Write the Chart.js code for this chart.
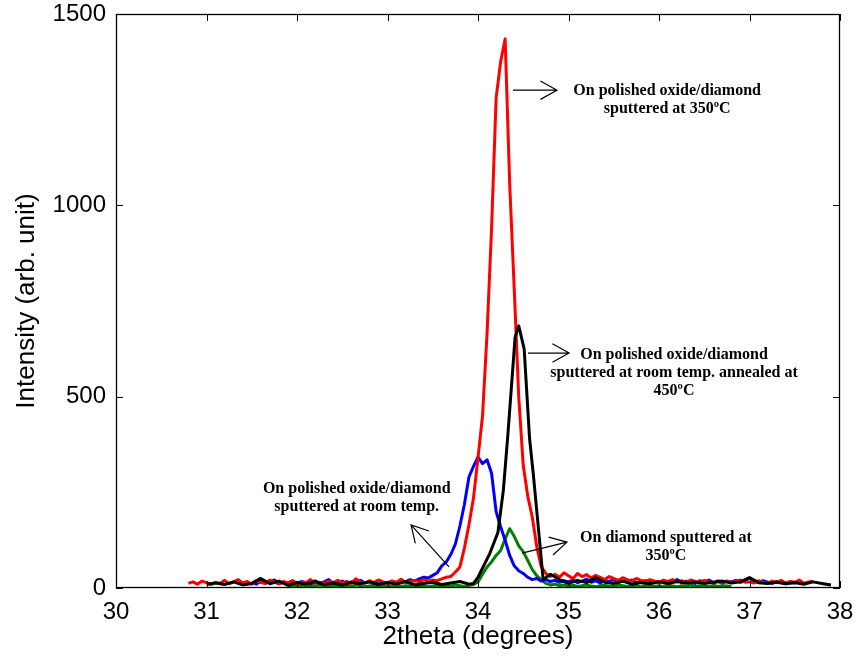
<!DOCTYPE html>
<html>
<head>
<meta charset="utf-8">
<script src="https://cdn.jsdelivr.net/npm/chart.js@4.4.1/dist/chart.umd.min.js"></script>
<style>
  html, body { margin: 0; padding: 0; background: #fff; }
  #wrap { width: 859px; height: 657px; }
</style>
</head>
<body>
<div id="wrap"><canvas id="xrd" width="859" height="657"></canvas></div>
<script>
// XRD scans around the 34° reflection, intensity in arbitrary units.
const xTicks = [30, 31, 32, 33, 34, 35, 36, 37, 38];
const yTicks = [0, 500, 1000, 1500];

// Fine scans: first angle and step (degrees), then intensities.
const redStart = 30.80, redStep = 0.05;   // polished oxide/diamond, sputtered at 350 ºC
const redCounts = [
  12, 16, 10, 18,                                                          // 30.80 - 30.95
  14, 9, 15, 12, 20, 11, 16, 22, 13, 17, 10, 19, 14, 12, 21, 15, 11, 17, 13, 19,   // 31.00 - 31.95
  10, 16, 14, 22, 12, 15, 11, 18, 14, 20, 13, 17, 12, 24, 15, 13, 19, 14, 21, 16,  // 32.00 - 32.95
  12, 18, 15, 23, 14, 17, 20, 16, 22, 18, 21, 19, 24, 28, 30, 42, 55, 105, 165, 235, // 33.00 - 33.95
  340, 450, 665, 940, 1280, 1375, 1435, 1057, 783, 500, 320, 240, 185, 107, 55, 38, 30, 36, 28, 40, // 34.00 - 34.95
  32, 25, 38, 30, 35, 26, 33, 28, 22, 30, 25, 20, 27, 22, 18, 25, 20, 17, 22, 18,  // 35.00 - 35.95
  15, 20, 17, 22, 16, 19, 14, 21, 17, 15, 20, 16, 13, 19, 15, 18, 14, 17, 21, 15,  // 36.00 - 36.95
  16, 13, 19, 15, 12, 18, 14, 20, 13, 17, 15, 21, 12, 16, 18                       // 37.00 - 37.70
];

const blueStart = 31.50, blueStep = 0.05; // polished oxide/diamond, sputtered at room temp.
const blueCounts = [
  14, 10, 18, 12, 16, 21, 11, 15, 13, 19,                                          // 31.50 - 31.95
  12, 17, 14, 10, 19, 13, 16, 22, 12, 15, 18, 11, 16, 14, 20, 13, 17, 12, 19, 15,  // 32.00 - 32.95
  14, 18, 13, 20, 16, 22, 18, 24, 28, 26, 33, 40, 58, 68, 88, 115, 162, 219, 290, 318, // 33.00 - 33.95
  342, 325, 335, 300, 200, 160, 125, 85, 58, 45, 38, 28, 22, 25, 18, 22, 17, 20, 15, 19, // 34.00 - 34.95
  16, 21, 14, 18, 23, 15, 19, 13, 20, 17, 22, 14, 18, 16, 21, 13, 17, 19, 14, 18,  // 35.00 - 35.95
  15, 20, 13, 17, 22, 14, 18, 16, 12, 19, 15, 21, 14, 17, 13, 18, 16, 20, 15, 19,  // 36.00 - 36.95
  26, 18, 14, 19, 15, 12, 17, 14, 11, 16, 13, 15, 12                               // 37.00 - 37.60
];

const greenStart = 31.90, greenStep = 0.05; // diamond, sputtered at 350 ºC
const greenCounts = [
  5, 7,                                                                            // 31.90 - 31.95
  4, 6, 3, 7, 5, 8, 4, 6, 5, 3, 7, 5, 4, 8, 6, 3, 5, 7, 4, 6,                      // 32.00 - 32.95
  5, 3, 7, 4, 6, 5, 8, 4, 6, 3, 5, 7, 4, 6, 5, 8, 6, 4, 7, 9,                      // 33.00 - 33.95
  16, 36, 55, 68, 85, 98, 128, 155, 135, 110, 95, 72, 48, 32, 21, 12, 8, 10, 6, 8, // 34.00 - 34.95
  5, 7, 4, 6, 8, 5, 3, 6, 7, 4, 5, 8, 6, 4, 5, 7, 3, 6, 5, 4,                      // 35.00 - 35.95
  6, 4, 7, 5, 3, 6, 5, 8, 4, 6, 5, 3, 7, 4, 6, 5, 4                                // 36.00 - 36.80
];

// Coarse scan: [2theta, intensity] — sputtered at room temp., annealed at 450 ºC
const blackScan = [
  [31.0, 10], [31.1, 13], [31.2, 9], [31.3, 16], [31.4, 8], [31.5, 12], [31.6, 25], [31.7, 11],
  [31.8, 18], [31.9, 7], [32.0, 14], [32.1, 10], [32.2, 17], [32.3, 9], [32.4, 13], [32.5, 8],
  [32.6, 15], [32.7, 11], [32.8, 16], [32.9, 9], [33.0, 14], [33.1, 10], [33.2, 17], [33.3, 8],
  [33.4, 12], [33.5, 15], [33.6, 9], [33.7, 13], [33.8, 17], [33.9, 10], [33.95, 12], [34.0, 28],
  [34.05, 52], [34.13, 90], [34.22, 145], [34.28, 255], [34.33, 400], [34.41, 655], [34.45, 685],
  [34.51, 625], [34.57, 390], [34.61, 300], [34.66, 175], [34.72, 22], [34.8, 36], [34.9, 22],
  [35.0, 12], [35.1, 20], [35.2, 14], [35.3, 27], [35.4, 15], [35.5, 12], [35.6, 18], [35.7, 10],
  [35.8, 14], [35.9, 11], [36.0, 16], [36.1, 12], [36.2, 17], [36.3, 13], [36.4, 16], [36.5, 12],
  [36.6, 15], [36.7, 18], [36.8, 13], [36.9, 16], [37.0, 27], [37.1, 14], [37.2, 12], [37.3, 15],
  [37.4, 11], [37.5, 14], [37.6, 10], [37.7, 16], [37.8, 12], [37.9, 8]
];

// Callout texts with arrows, placed in data units (2theta, intensity).
const callouts = [
  { lines: ['On polished oxide/diamond', 'sputtered at 350ºC'],
    at: [36.09, 1299], from: [34.387, 1301], to: [34.873, 1301] },
  { lines: ['On polished oxide/diamond', 'sputtered at room temp. annealed at', '450ºC'],
    at: [36.166, 609], from: [34.552, 614], to: [35.006, 614] },
  { lines: ['On polished oxide/diamond', 'sputtered at room temp.'],
    at: [32.66, 259], from: [33.68, 55], to: [33.26, 165] },
  { lines: ['On diamond sputtered at', '350ºC'],
    at: [36.077, 131], from: [34.486, 91], to: [34.983, 120] }
];

function stepSeries(start, step, counts) {
  return counts.map((v, i) => ({ x: +(start + i * step).toFixed(2), y: v }));
}

const SANS = '"Liberation Sans", Arial, sans-serif';
const SERIF = '"Liberation Serif", "Times New Roman", serif';

// Box around the axes with inward tick marks on all four sides.
const boxFrame = {
  id: 'boxFrame',
  afterDatasetsDraw(chart) {
    const { ctx, chartArea: a, scales } = chart;
    const len = 7;
    ctx.save();
    ctx.strokeStyle = '#000';
    ctx.lineWidth = 1;
    ctx.beginPath();
    xTicks.forEach(t => {
      const px = Math.round(scales.x.getPixelForValue(t)) + 0.5;
      ctx.moveTo(px, a.bottom); ctx.lineTo(px, a.bottom - len);
      ctx.moveTo(px, a.top); ctx.lineTo(px, a.top + len);
    });
    yTicks.forEach(t => {
      const py = Math.round(scales.y.getPixelForValue(t)) + 0.5;
      ctx.moveTo(a.left, py); ctx.lineTo(a.left + len, py);
      ctx.moveTo(a.right, py); ctx.lineTo(a.right - len, py);
    });
    ctx.stroke();
    ctx.lineWidth = 1.3;
    ctx.strokeRect(Math.round(a.left) + 0.5, Math.round(a.top) + 0.5,
                   Math.round(a.right - a.left) - 1, Math.round(a.bottom - a.top) - 1);
    ctx.restore();
  }
};

// Callout text and open-headed arrows.
const calloutLayer = {
  id: 'calloutLayer',
  afterDatasetsDraw(chart) {
    const { ctx, scales: { x, y } } = chart;
    const px = p => [x.getPixelForValue(p[0]), y.getPixelForValue(p[1])];
    ctx.save();
    ctx.fillStyle = '#000';
    ctx.strokeStyle = '#000';
    ctx.lineWidth = 1.2;
    ctx.font = 'bold 16px ' + SERIF;
    ctx.textAlign = 'center';
    ctx.textBaseline = 'middle';
    callouts.forEach(c => {
      const [tx, ty] = px(c.at);
      c.lines.forEach((s, i) => ctx.fillText(s, tx, ty + i * 18));
      const [x0, y0] = px(c.from);
      const [x1, y1] = px(c.to);
      const ang = Math.atan2(y1 - y0, x1 - x0);
      const head = 19, spread = Math.PI / 6.2;
      ctx.beginPath();
      ctx.moveTo(x0, y0); ctx.lineTo(x1, y1);
      ctx.moveTo(x1 - head * Math.cos(ang - spread), y1 - head * Math.sin(ang - spread));
      ctx.lineTo(x1, y1);
      ctx.lineTo(x1 - head * Math.cos(ang + spread), y1 - head * Math.sin(ang + spread));
      ctx.stroke();
    });
    ctx.restore();
  }
};

const lineStyle = { pointRadius: 0, borderWidth: 3, tension: 0, fill: false, borderJoinStyle: 'round' };
const plain = v => String(v);

new Chart(document.getElementById('xrd'), {
  type: 'line',
  data: {
    datasets: [
      { label: 'annealed 450 ºC', data: blackScan.map(([a, v]) => ({ x: a, y: v })),
        borderColor: '#000000', order: 0, ...lineStyle },
      { label: 'oxide/diamond 350 ºC', data: stepSeries(redStart, redStep, redCounts),
        borderColor: '#ff0000', order: 1, ...lineStyle },
      { label: 'oxide/diamond room temp.', data: stepSeries(blueStart, blueStep, blueCounts),
        borderColor: '#0000ff', order: 2, ...lineStyle },
      { label: 'diamond 350 ºC', data: stepSeries(greenStart, greenStep, greenCounts),
        borderColor: '#008000', order: 3, ...lineStyle }
    ]
  },
  options: {
    responsive: false,
    animation: false,
    devicePixelRatio: 1,
    layout: { padding: { top: 14, right: 19, left: 0, bottom: 0 } },
    plugins: { legend: { display: false }, tooltip: { enabled: false } },
    scales: {
      x: {
        type: 'linear', min: 30, max: 38,
        afterBuildTicks(s) { s.ticks = xTicks.map(v => ({ value: v })); },
        afterFit(s) { s.height = 69; s.paddingLeft = 0; s.paddingRight = 0; },
        ticks: { color: '#000', padding: 10, maxRotation: 0, autoSkip: false, callback: plain,
                 font: { family: SANS, size: 24 } },
        grid: { display: false, drawTicks: false },
        border: { display: false },
        title: { display: true, text: '2theta (degrees)', color: '#000',
                 font: { family: SANS, size: 26 }, padding: { top: 0, bottom: 5 } }
      },
      y: {
        type: 'linear', min: 0, max: 1500,
        afterBuildTicks(s) { s.ticks = yTicks.map(v => ({ value: v })); },
        afterFit(s) { s.width = 116; s.paddingTop = 0; s.paddingBottom = 0; },
        ticks: { color: '#000', padding: 10, callback: plain, font: { family: SANS, size: 24 } },
        grid: { display: false, drawTicks: false },
        border: { display: false },
        title: { display: true, text: 'Intensity (arb. unit)', color: '#000',
                 font: { family: SANS, size: 26 }, padding: { top: 11, bottom: 0 } }
      }
    }
  },
  plugins: [boxFrame, calloutLayer]
});
</script>
</body>
</html>
